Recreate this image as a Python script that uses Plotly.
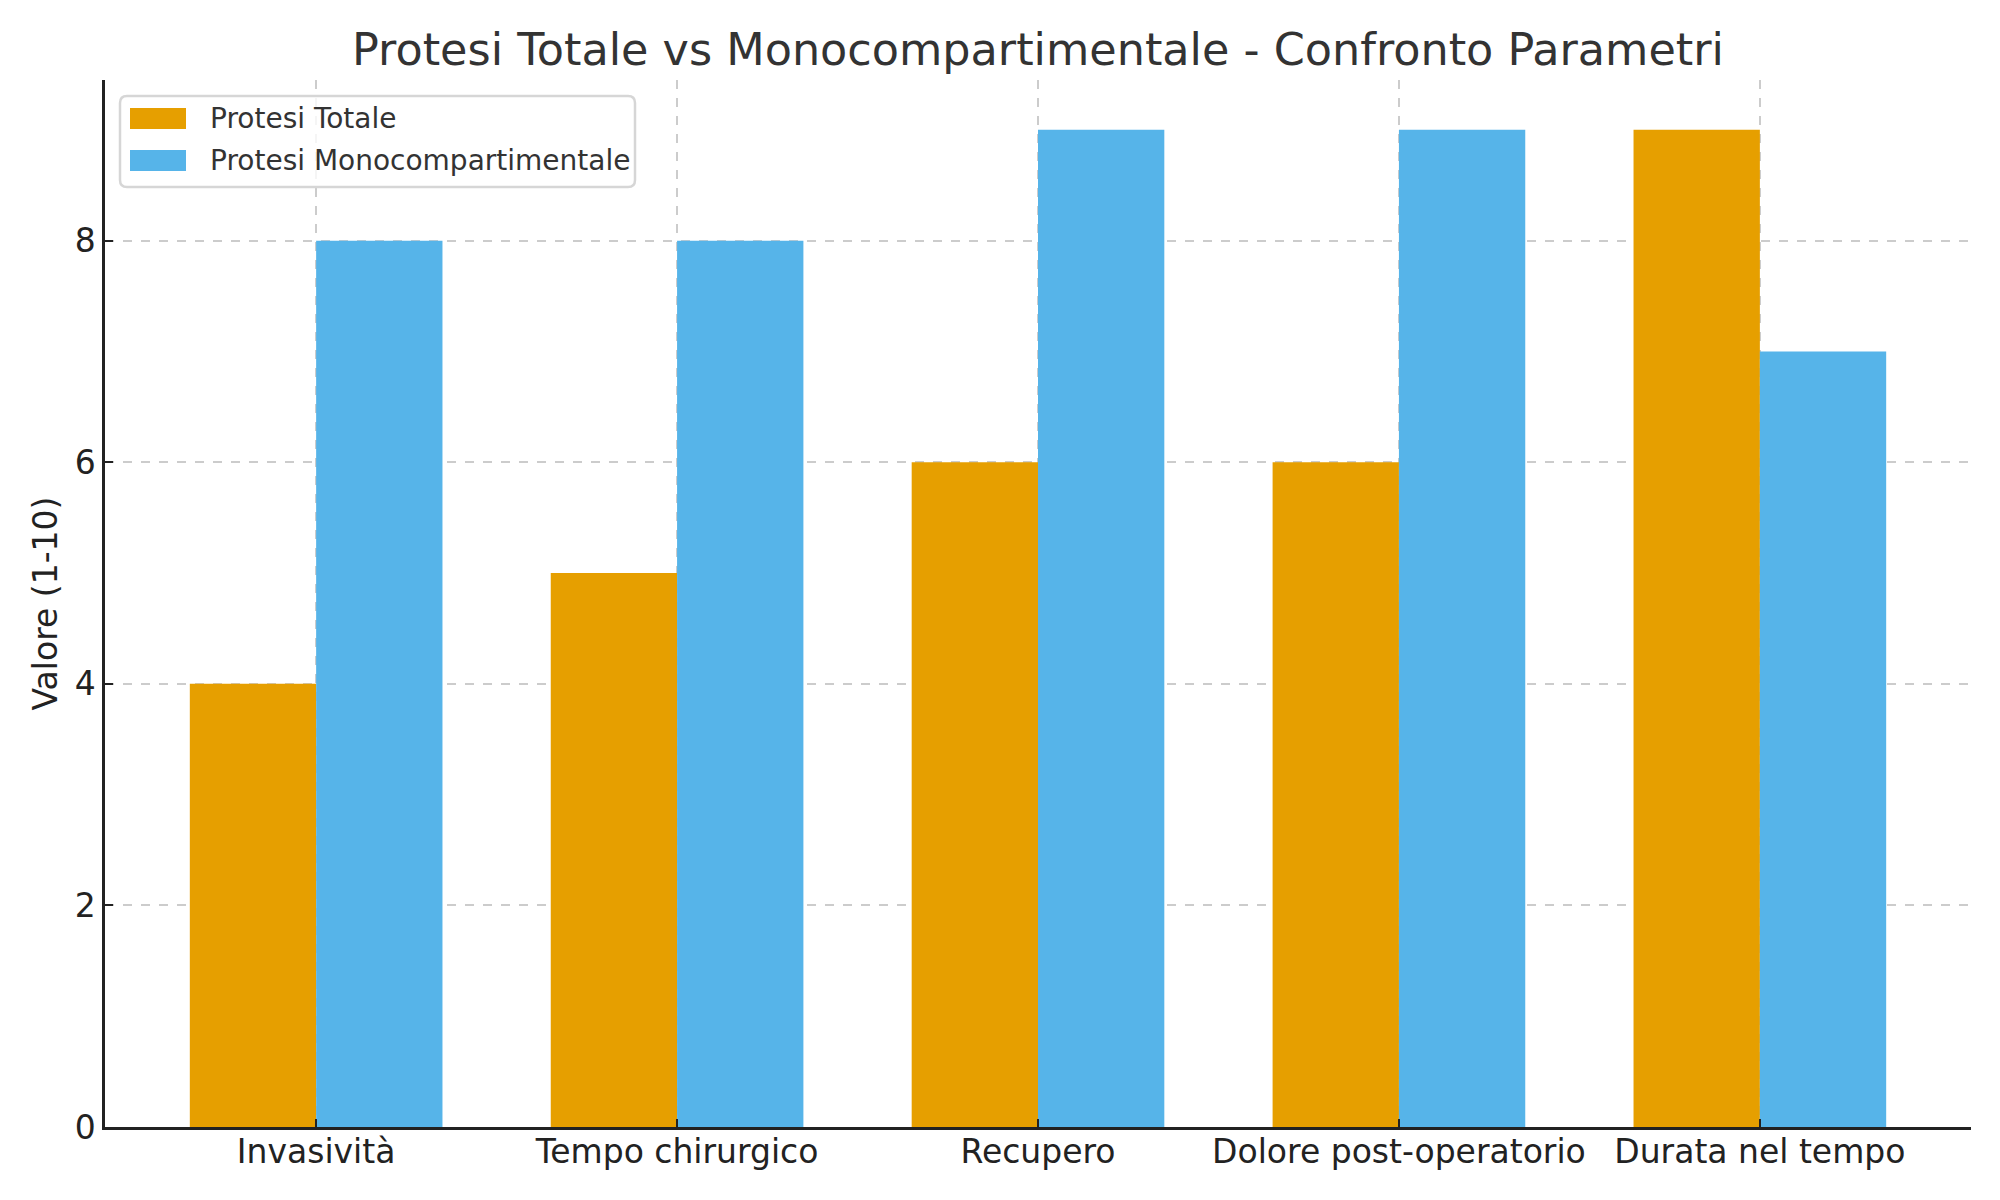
import plotly.graph_objects as go

categories = ["Invasività", "Tempo chirurgico", "Recupero", "Dolore post-operatorio", "Durata nel tempo"]
totale = [4, 5, 6, 6, 9]
mono = [8, 8, 9, 9, 7]
series_names = ["Protesi Totale", "Protesi Monocompartimentale"]
colors = ["#E69F00", "#56B4E9"]
y_ticks = [0, 2, 4, 6, 8]

FONT = "DejaVu Sans"

fig = go.Figure()
for vals, name, col in zip([totale, mono], series_names, colors):
    fig.add_trace(go.Bar(x=categories, y=vals, name=name, marker_color=col,
                         marker_line_width=0))

W, H = 2000, 1200
L, R, T, B = 97, 37, 72, 81
PW, PH = W - L - R, H - T - B


def px(x):  # figure pixel x -> paper
    return (x - L) / PW


def py(y):  # figure pixel y -> paper
    return (H - B - y) / PH


# matplotlib-style legend (wide swatches, rounded frame)
bx0, bx1, by0, by1, r = 112, 627, 88, 179, 7
path = (f"M{px(bx0 + r)},{py(by0)} L{px(bx1 - r)},{py(by0)} Q{px(bx1)},{py(by0)} {px(bx1)},{py(by0 + r)} "
        f"L{px(bx1)},{py(by1 - r)} Q{px(bx1)},{py(by1)} {px(bx1 - r)},{py(by1)} "
        f"L{px(bx0 + r)},{py(by1)} Q{px(bx0)},{py(by1)} {px(bx0)},{py(by1 - r)} "
        f"L{px(bx0)},{py(by0 + r)} Q{px(bx0)},{py(by0)} {px(bx0 + r)},{py(by0)} Z")
shapes = [dict(type="path", xref="paper", yref="paper", path=path,
               fillcolor="rgba(255,255,255,0.8)", line=dict(color="#d6d6d6", width=2.5), layer="above")]
annotations = []
row_y = [110.5, 152.5]
for name, col, yc in zip(series_names, colors, row_y):
    shapes.append(dict(type="rect", xref="paper", yref="paper",
                       x0=px(122), x1=px(178), y0=py(yc - 10.5), y1=py(yc + 10.5),
                       fillcolor=col, line=dict(width=0), layer="above"))
    annotations.append(dict(text=name, xref="paper", yref="paper", x=px(200), y=py(yc),
                            xanchor="left", yanchor="middle", showarrow=False,
                            font=dict(family=FONT, size=28, color="#333333")))

fig.update_layout(
    width=W, height=H,
    margin=dict(l=L, r=R, t=T, b=B),
    paper_bgcolor="white", plot_bgcolor="white",
    barmode="group", bargap=0.3, bargroupgap=0,
    font=dict(family=FONT, color="#222222", size=28),
    title=dict(text="Protesi Totale vs Monocompartimentale - Confronto Parametri",
               x=(L + PW / 2) / W, xanchor="center",
               y=1 - 41 / H, yanchor="middle",
               font=dict(family=FONT, size=44.5, color="#333333")),
    showlegend=False,
    shapes=shapes,
    annotations=annotations,
)
fig.update_xaxes(
    range=[-0.585, 4.585],
    showline=True, linecolor="#222222", linewidth=2.5,
    ticks="inside", ticklen=8, tickwidth=2, tickcolor="#222222",
    showgrid=True, gridcolor="#cccccc", griddash="dash", gridwidth=1.5,
    tickfont=dict(family=FONT, size=33, color="#222222"),
    ticklabelstandoff=-6,
    layer="above traces", zeroline=False,
)
fig.update_yaxes(
    range=[0, 9.45],
    tickvals=y_ticks,
    showline=True, linecolor="#222222", linewidth=2.5,
    ticks="inside", ticklen=8, tickwidth=2, tickcolor="#222222",
    showgrid=True, gridcolor="#cccccc", griddash="dash", gridwidth=1.5,
    tickfont=dict(family=FONT, size=33, color="#222222"),
    title=dict(text="Valore (1-10)", font=dict(family=FONT, size=33, color="#222222"), standoff=8),
    layer="above traces", zeroline=False,
)

fig.write_html("out.html")
